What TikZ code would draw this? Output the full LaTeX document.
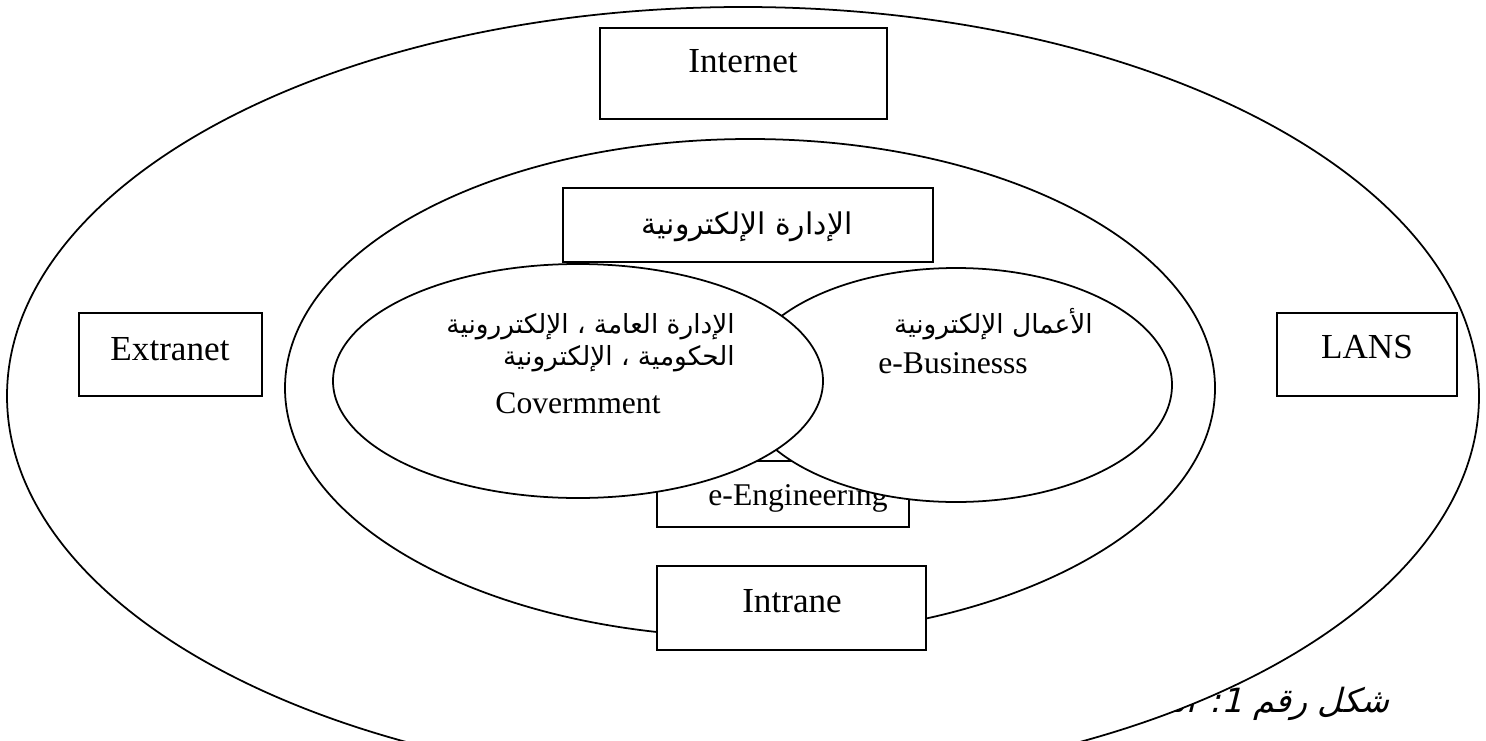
\documentclass[tikz,border=0pt]{standalone}
\usepackage{fontspec}
\setmainfont{Liberation Serif}
\newfontfamily\arabicfont[Script=Arabic]{DejaVu Sans}
\newfontfamily\captionfont[Script=Arabic,FakeSlant=0.25]{DejaVu Sans}
\TeXXeTstate=1
\usetikzlibrary{positioning}

\tikzset{
  frame/.style={draw, fill=white, line width=1pt, inner sep=0pt},
  oval/.style={draw, fill=white, line width=1pt},
  big/.style={font=\fontsize{20}{24}\selectfont, inner sep=0pt},
  small/.style={font=\fontsize{18}{22}\selectfont, inner sep=0pt},
  arab/.style={font=\arabicfont\fontsize{15}{20}\selectfont, inner sep=0pt},
  capt/.style={font=\captionfont\fontsize{19}{24}\selectfont, inner sep=0pt}
}

\begin{document}
\begin{tikzpicture}[x=0.02cm, y=-0.02cm]
    \useasboundingbox (0,0) rectangle (1486,740);
    \clip (0,0) rectangle (1486,740);

    % caption, cut by the outer oval
    \node[capt, anchor=base east] (caption) at (1390,712) {\beginR شكل رقم 1: الـــ\endR};

    % outer oval and its boxes
    \coordinate (outer) at (743,396);
    \draw[oval] (outer) ellipse [x radius=736, y radius=389];

    \node[frame, minimum width=5.74cm, minimum height=1.82cm] (internet) at (743.5,73.5) {};
    \node[big, anchor=base] (internettxt) at (743,72) {Internet};

    \node[frame, minimum width=3.66cm, minimum height=1.66cm] (extranet) at (170.5,354.5) {};
    \node[big, anchor=base] (extranettxt) at (170,360) {Extranet};

    \node[frame, minimum width=3.60cm, minimum height=1.66cm] (lans) at (1367,354.5) {};
    \node[big, anchor=base] (lanstxt) at (1367,358) {LANS};

    % middle oval
    \coordinate (middle) at (750,388);
    \draw[oval] (middle) ellipse [x radius=465, y radius=249];

    \node[frame, minimum width=7.40cm, minimum height=1.48cm] (edara) at (748,225) {};
    \node[arab, font=\arabicfont\fontsize{17}{20}\selectfont, anchor=base] (edaratxt) at (747,234) {\beginR الإدارة الإلكترونية\endR};

    \node[frame, minimum width=5.38cm, minimum height=1.68cm] (intrane) at (791.5,608) {};
    \node[big, anchor=base] (intranetxt) at (792,612) {Intrane};

    \node[frame, minimum width=5.04cm, minimum height=1.32cm] (engineering) at (783,494) {};
    \node[small, anchor=base] (engineeringtxt) at (798,505) {e-Engineering};

    % the two inner ovals, the left one on top
    \coordinate (business) at (956,385);
    \draw[oval] (business) ellipse [x radius=216, y radius=117];

    \coordinate (government) at (578,381);
    \draw[oval] (government) ellipse [x radius=245, y radius=117];

    \node[arab, anchor=base east] (gov1) at (735,333) {\beginR الإدارة العامة ، الإلكتررونية\endR};
    \node[arab, anchor=base east] (gov2) at (735,365) {\beginR الحكومية ، الإلكترونية\endR};
    \node[small, anchor=base] (gov3) at (578,413) {Covermment};

    \node[arab, anchor=base east] (bus1) at (1093,333) {\beginR الأعمال الإلكترونية\endR};
    \node[small, anchor=base west] (bus2) at (878,373) {e-Businesss};
\end{tikzpicture}
\end{document}
